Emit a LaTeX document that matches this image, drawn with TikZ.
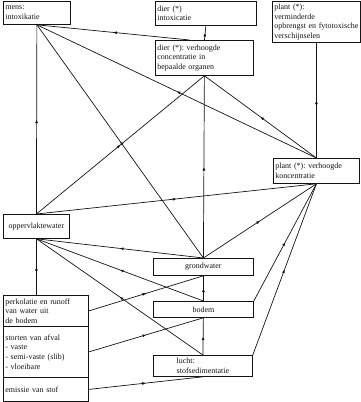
\documentclass[tikz,border=0pt]{standalone}
\usepackage{fontspec}
\setmainfont{Liberation Serif}
\usepackage{tikz}
\usetikzlibrary{arrows.meta,decorations.markings,calc}
\usepackage{xcolor}
\definecolor{inkdark}{RGB}{20,20,20}
\frenchspacing

\tikzset{
  box/.style={draw=inkdark, line width=0.8pt, anchor=north west, align=left,
    inner xsep=2pt, inner ysep=1.5pt, font=\fontsize{8}{9.6}\selectfont, text=inkdark},
  flow/.style={draw=inkdark, line width=0.7pt, postaction={decorate},
    decoration={markings, mark=at position 0.5 with {\arrow{Latex[length=3.6pt,width=3pt]}}}}
}

\begin{document}
\begin{tikzpicture}[x=1pt,y=-1pt]
\useasboundingbox (0,0) rectangle (360,402);

% effects on man, animals and plants
\node[box, text width=63pt, minimum height=23pt] (mens) at (3,1) {mens:\\intoxikatie};
\node[box, text width=97pt, minimum height=24pt] (dierint) at (155,1) {dier (*)\\intoxicatie};
\node[box, text width=94pt, minimum height=35pt] (dierconc) at (155,40) {dier (*): verhoogde\\concentratie in\\bepaalde organen};
\node[box, text width=84pt, minimum height=41pt] (plantopb) at (272,1) {plant (*):\\verminderde\\opbrengst en fytotoxische\\verschijnselen};
\node[box, text width=82pt, minimum height=25pt] (plantconc) at (273,158) {plant (*): verhoogde\\koncentratie};

% compartments
\node[box, align=center, minimum width=66pt, minimum height=24pt] (opp) at (3,214) {oppervlaktewater};
\node[box, align=center, minimum width=100pt, minimum height=17pt] (grond) at (153,258) {grondwater};
\node[box, align=center, minimum width=100pt, minimum height=16pt] (bodem) at (153,301) {bodem};
\node[box, minimum width=99pt, minimum height=21pt] (lucht) at (153,355) {lucht:\\stofsedimentatie};

% sources
\node[box, text width=81pt, minimum height=31pt] (perk) at (3,295) {perkolatie en runoff\\van water uit\\de bodem};
\node[box, text width=81pt, minimum height=51pt] (storten) at (3,326) {storten van afval\\- vaste\\- semi-vaste (slib)\\- vloeibare};
\node[box, text width=81pt, minimum height=24pt] (emissie) at (3,377) {emissie van stof};

% transfers
\draw[flow] (dierconc.north) -- (dierint.south);
\draw[flow] ($(dierconc.north west)!0.35!(dierconc.north east)$) -- (mens.south);
\draw[flow] (plantconc.north) -- (plantopb.south);
\draw[flow] (plantconc.north) -- (mens.south);
\draw[flow] (plantconc.north) -- (dierconc.south);
\draw[flow] (grond.north) -- (mens.south);
\draw[flow] (grond.north) -- (dierconc.south);
\draw[flow] (grond.north) -- (plantconc.south);
\draw[flow] (opp.north) -- (mens.south);
\draw[flow] (opp.north) -- (dierconc.south);
\draw[flow] (opp.north) -- (plantconc.south);
\draw[flow] (grond.north) -- (opp.south);
\draw[flow] (bodem.north) -- (opp.south);
\draw[flow] (lucht.north) -- (opp.south);
\draw[flow] (bodem.north) -- (grond.south);
\draw[flow] (lucht.north) -- (bodem.south);
\draw[flow] (bodem.north east) -- (plantconc.south);
\draw[flow] (lucht.north east) -- (plantconc.south);
\draw[flow] (perk.north -| opp.south) -- (opp.south);
\draw[flow] (perk.east) -- (grond.south);
\draw[flow] (storten.east) -- (bodem.south);
\draw[flow] (emissie.east) -- (lucht.south);
\end{tikzpicture}
\end{document}
